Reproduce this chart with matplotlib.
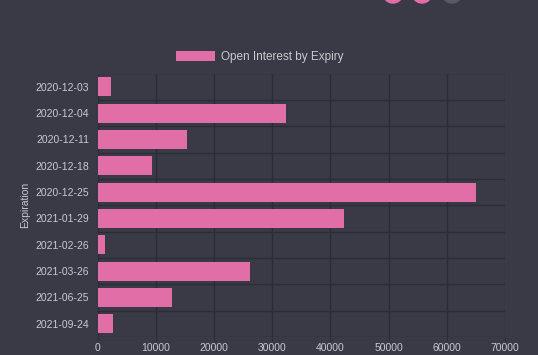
import matplotlib
matplotlib.use('Agg')
import matplotlib.pyplot as plt
from matplotlib.patches import Circle
import numpy as np

# data
expiries = ['2020-12-03', '2020-12-04', '2020-12-11', '2020-12-18', '2020-12-25',
            '2021-01-29', '2021-02-26', '2021-03-26', '2021-06-25', '2021-09-24']
open_interest = [2200, 32300, 15400, 9400, 65100, 42300, 1250, 26100, 12800, 2550]
x_ticks = [0, 10000, 20000, 30000, 40000, 50000, 60000, 70000]

bg = '#3a3a47'
grid_col = '#2c2c36'
bar_col = '#e26ea8'
txt_col = '#c9c9cf'

plt.rcParams['font.family'] = ['Liberation Sans', 'DejaVu Sans']

fig = plt.figure(figsize=(5.38, 3.55), dpi=100, facecolor=bg)
W, H = 538, 355
ax = fig.add_axes([97.7 / W, 1 - 337 / H, (505 - 97.7) / W, (337 - 73.5) / H])
ax.set_facecolor(bg)

y = np.arange(len(expiries))
ax.barh(y, open_interest, height=0.72, color=bar_col, label='Open Interest by Expiry', zorder=3)

ax.set_xlim(0, 70000)
ax.set_ylim(len(expiries) - 0.5, -0.5)
ax.set_xticks(x_ticks)
ax.set_xticklabels([str(t) for t in x_ticks], color=txt_col, fontsize=7.5)
ax.set_yticks(y)
ax.set_yticklabels(expiries, color=txt_col, fontsize=7.5)

# grid lines between categories and at x ticks
for b in np.arange(-0.5, len(expiries), 1.0):
    ax.axhline(b, color=grid_col, lw=1, zorder=1)
for t in x_ticks:
    ax.axvline(t, color=grid_col, lw=1, zorder=1)

for s in ax.spines.values():
    s.set_visible(False)
ax.tick_params(axis='x', length=3, color=grid_col, pad=1.5)
ax.tick_params(axis='y', length=0, pad=6)

ax.set_ylabel('Expiration', color=txt_col, fontsize=7.5, labelpad=4)

leg = fig.legend(loc='center', bbox_to_anchor=(260 / W, 1 - 57 / H), frameon=False,
                 fontsize=8.5, handlelength=3.3, handleheight=1.0, handletextpad=0.5)
for t in leg.get_texts():
    t.set_color(txt_col)

# toolbar buttons cut off at the top edge
for cx, col in [(393, '#e26ea8'), (422, '#e26ea8'), (452, '#5a5a62')]:
    fig.add_artist(Circle((cx / 100, (H + 7) / 100), 0.10, color=col,
                          transform=fig.dpi_scale_trans, clip_on=False))

fig.savefig('out.png', dpi=100, facecolor=bg)
